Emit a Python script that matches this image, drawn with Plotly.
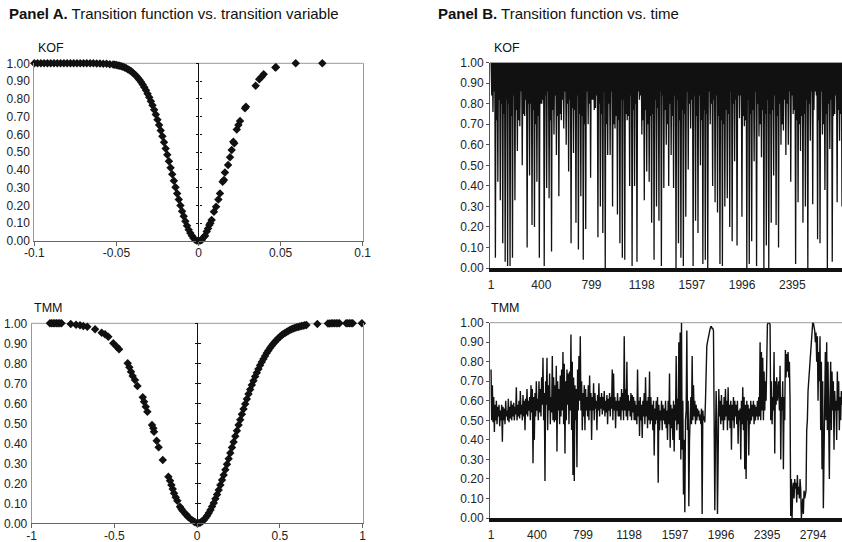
import numpy as np
import plotly.graph_objects as go

W, H = 842, 542

# ---------------- Panel A data (transition function vs. transition variable) -------------
kofA_x = [-0.100, -0.098, -0.096, -0.094, -0.092, -0.090, -0.088, -0.086, -0.084, -0.082,
          -0.080, -0.078, -0.076, -0.074, -0.072, -0.070, -0.068, -0.066, -0.064, -0.062,
          -0.060, -0.058, -0.056, -0.054, -0.052, -0.051, -0.050, -0.049, -0.048, -0.047,
          -0.046, -0.045, -0.044, -0.043, -0.042, -0.041, -0.040, -0.039, -0.038, -0.037,
          -0.036, -0.035, -0.034, -0.033, -0.032, -0.031, -0.030, -0.029, -0.028, -0.027,
          -0.026, -0.025, -0.024, -0.023, -0.022, -0.021, -0.020, -0.019, -0.018, -0.017,
          -0.016, -0.015, -0.014, -0.013, -0.012, -0.011, -0.010, -0.009, -0.008, -0.007,
          -0.006, -0.005, -0.004, -0.003, -0.002, -0.001, 0.000,
          0.001, 0.002, 0.0034, 0.004, 0.005, 0.0058, 0.0066, 0.0072, 0.008, 0.0094, 0.0107,
          0.0121, 0.0131, 0.0147, 0.0155, 0.0161, 0.018, 0.0192, 0.0202, 0.0212, 0.0218,
          0.0233, 0.0243, 0.0253, 0.0283, 0.0289, 0.0348, 0.037, 0.0385, 0.0397, 0.0468,
          0.0472, 0.0592, 0.0754]
kofA_y = [1.000, 1.000, 1.000, 1.000, 1.000, 1.000, 1.000, 1.000, 1.000, 1.000,
          1.000, 1.000, 1.000, 1.000, 1.000, 1.000, 1.000, 1.000, 1.000, 0.999,
          0.999, 0.998, 0.997, 0.995, 0.993, 0.992, 0.990, 0.988, 0.986, 0.983,
          0.980, 0.976, 0.972, 0.967, 0.961, 0.955, 0.947, 0.939, 0.930, 0.919,
          0.908, 0.895, 0.881, 0.865, 0.848, 0.829, 0.809, 0.787, 0.764, 0.738,
          0.712, 0.683, 0.653, 0.622, 0.590, 0.556, 0.521, 0.485, 0.449, 0.412,
          0.376, 0.339, 0.303, 0.267, 0.233, 0.200, 0.168, 0.139, 0.111, 0.086,
          0.064, 0.045, 0.029, 0.016, 0.007, 0.002, 0.000,
          0.002, 0.006, 0.024, 0.030, 0.053, 0.070, 0.090, 0.100, 0.118, 0.165, 0.193,
          0.234, 0.268, 0.334, 0.343, 0.385, 0.428, 0.471, 0.512, 0.559, 0.550,
          0.628, 0.653, 0.675, 0.747, 0.756, 0.874, 0.910, 0.925, 0.938, 0.976,
          0.978, 1.000, 1.000]

tmmA_x = [-0.89, -0.88, -0.87, -0.86, -0.85, -0.84, -0.83, -0.82, -0.764, -0.732,
          -0.708, -0.688, -0.664, -0.617, -0.577, -0.557, -0.537, -0.507, -0.486, -0.472,
          -0.42, -0.41, -0.40, -0.39, -0.376, -0.361, -0.329, -0.321, -0.311, -0.301,
          -0.273, -0.265, -0.261, -0.245, -0.233, -0.208, -0.174, -0.164, -0.156, -0.148,
          -0.14, -0.13, -0.12, -0.104, -0.095, -0.088, -0.071, -0.062, -0.053, -0.033,
          -0.022, -0.013, 0.00,
          0.01, 0.02, 0.03, 0.04, 0.05, 0.06, 0.07, 0.08, 0.09, 0.10,
          0.11, 0.12, 0.13, 0.14, 0.15, 0.16, 0.17, 0.18, 0.19, 0.20,
          0.21, 0.22, 0.23, 0.24, 0.25, 0.26, 0.27, 0.28, 0.29, 0.30,
          0.31, 0.32, 0.33, 0.34, 0.35, 0.36, 0.37, 0.38, 0.39, 0.40,
          0.41, 0.42, 0.43, 0.44, 0.45, 0.46, 0.47, 0.48, 0.49, 0.50,
          0.51, 0.52, 0.53, 0.54, 0.55, 0.56, 0.57, 0.58, 0.59, 0.60,
          0.61, 0.62, 0.63, 0.64, 0.65, 0.66,
          0.726, 0.79, 0.80, 0.81, 0.82, 0.83, 0.84, 0.85, 0.86, 0.90, 0.91, 0.92, 0.93,
          0.94, 0.995]
tmmA_y = [1.0, 1.0, 1.0, 1.0, 1.0, 1.0, 1.0, 1.0, 0.997, 0.993,
          0.990, 0.987, 0.983, 0.970, 0.953, 0.945, 0.933, 0.900, 0.883, 0.870,
          0.800, 0.780, 0.758, 0.737, 0.717, 0.687, 0.630, 0.608, 0.583, 0.558,
          0.492, 0.475, 0.458, 0.413, 0.380, 0.317, 0.233, 0.213, 0.192, 0.172,
          0.150, 0.130, 0.113, 0.083, 0.072, 0.063, 0.047, 0.040, 0.030, 0.017,
          0.010, 0.005, 0.000,
          0.001, 0.004, 0.010, 0.017, 0.027, 0.038, 0.052, 0.067, 0.084, 0.102,
          0.123, 0.144, 0.167, 0.191, 0.216, 0.242, 0.268, 0.295, 0.323, 0.351,
          0.379, 0.407, 0.435, 0.463, 0.491, 0.518, 0.545, 0.571, 0.597, 0.622,
          0.646, 0.669, 0.692, 0.713, 0.734, 0.753, 0.772, 0.790, 0.807, 0.822,
          0.837, 0.851, 0.864, 0.876, 0.888, 0.898, 0.908, 0.917, 0.925, 0.933,
          0.940, 0.946, 0.952, 0.957, 0.962, 0.966, 0.970, 0.974, 0.977, 0.980,
          0.982, 0.984, 0.986, 0.988, 0.990, 0.991,
          0.997, 0.999, 0.999, 1.0, 1.0, 1.0, 1.0, 1.0, 1.0, 1.0, 1.0, 1.0, 1.0,
          1.0, 1.0]

# ---------------- Panel B data (transition function vs. time) -------------
KOF_N_OBS = 2790
TMM_N_OBS = 3045
kofB = [
    1,.84,1,.76,1,.86,1,.05,1,.72,1,.42,1,.82,1,.33,1,.80,1,.12,1,.75,1,.03,
    1,.82,1,.01,1,.80,1,.01,1,.74,1,.05,1,.84,1,.33,1,.77,1,.57,1,.72,1,.69,
    1,.86,1,.50,1,.75,1,.74,1,.82,1,.10,1,.80,1,.45,1,.80,1,.21,1,.77,1,.20,
    1,.70,1,.42,1,.74,1,.05,1,.80,1,.80,1,.82,1,.01,1,.84,1,.39,1,.86,1,.34,
    1,.72,1,.08,1,.77,1,.65,1,.84,1,.55,1,.74,1,.35,1,.75,1,.72,1,.82,1,.68,
    1,.86,1,.60,1,.80,1,.47,1,.82,1,.12,1,.78,1,.56,1,.77,1,.22,1,.84,1,.09,
    1,.75,1,.35,1,.74,1,.04,1,.70,1,.19,1,.86,1,.70,1,.80,1,.44,1,.82,1,.82,
    1,.77,1,.78,1,.84,1,.15,1,.80,1,.30,1,.75,1,.17,1,.86,1,0,1,.70,1,.55,
    1,.80,1,.55,1,.86,1,.30,1,.70,1,.68,1,.74,1,.26,1,.72,1,.12,1,.82,1,.05,
    1,.82,1,.04,1,.75,1,.72,1,.74,1,.40,1,.84,1,.01,1,.77,1,.40,1,.80,1,.03,
    1,.86,1,.82,1,.84,1,.65,1,.72,1,.33,1,.77,1,.47,1,.70,1,.42,1,.74,1,.22,
    1,.75,1,.04,1,.82,1,.30,1,.78,1,.23,1,.86,1,.01,1,.84,1,.39,1,.77,1,.60,
    1,.70,1,.40,1,.80,1,.55,1,.74,1,.39,1,.84,1,0,1,.82,1,.12,1,.72,1,.05,
    1,.77,1,.01,1,.75,1,.25,1,.86,1,.48,1,.80,1,.68,1,.82,1,.01,1,.84,1,.23,
    1,.74,1,.17,1,.84,1,.50,1,.72,1,.02,1,.77,1,.04,1,.75,1,0,1,.86,1,.70,
    1,.80,1,.40,1,.82,1,.32,1,.84,1,.27,1,.74,1,.02,1,.72,1,.01,1,.70,1,.30,
    1,.77,1,.34,1,.75,1,.20,1,.86,1,.13,1,.80,1,.52,1,.82,1,.11,1,.84,1,.73,
    1,.84,1,.25,1,.74,1,.69,1,.72,1,0,1,.82,1,.02,1,.75,1,.13,1,.77,1,.52,
    1,.86,1,.01,1,.80,1,.64,1,.70,1,.54,1,.77,1,0,1,.75,1,.11,1,.82,1,0,
    1,.75,1,.22,1,.77,1,.45,1,.84,1,.21,1,.74,1,.10,1,.80,1,.60,1,.70,1,.67,
    1,.82,1,.55,1,.80,1,.60,1,.86,1,.42,1,.84,1,.75,1,.77,1,.02,1,.72,1,.32,
    1,.70,1,.57,1,.74,1,.22,1,.75,1,.30,1,.82,1,0,1,.80,1,.62,1,.86,1,.31,
    1,.77,1,.86,1,.84,1,.14,1,.72,1,.12,1,.86,1,.65,1,.70,1,.38,1,.75,1,0,
    1,.80,1,.58,1,.82,1,.03,1,.74,1,.75,1,.84,1,.32,1,.77,1,.62,1,.75,1,.30,
]
tmmB = [
    .76,.50,.68,.49,.62,.44,.58,.50,.60,.48,.57,.52,.58,.47,.55,.50,.58,.39,.57,.50,.56,.48,.60,.52,
    .55,.50,.61,.49,.57,.51,.60,.50,.58,.52,.59,.50,.57,.53,.67,.50,.58,.52,.60,.51,.65,.53,.58,.50,
    .63,.52,.60,.45,.61,.53,.66,.52,.60,.55,.62,.50,.68,.54,.66,.28,.62,.40,.64,.52,.70,.55,.61,.50,
    .70,.54,.66,.52,.72,.58,.82,.50,.64,.19,.70,.58,.82,.45,.68,.55,.74,.48,.62,.54,.83,.50,.72,.49,
    .68,.50,.78,.34,.70,.55,.66,.48,.73,.52,.76,.55,.85,.48,.79,.33,.70,.50,.76,.58,.74,.48,.75,.55,
    .94,.45,.80,.22,.72,.19,.68,.50,.66,.26,.76,.55,.83,.60,.93,.55,.70,.45,.64,.52,.68,.45,.66,.55,
    .62,.52,.68,.50,.73,.55,.64,.40,.62,.55,.69,.50,.64,.56,.60,.45,.63,.55,.69,.52,.62,.56,.64,.53,
    .62,.55,.65,.52,.60,.54,.63,.48,.61,.55,.64,.52,.62,.56,.76,.50,.74,.55,.62,.46,.60,.55,.64,.52,
    .60,.52,.62,.50,.66,.55,.64,.50,.93,.55,.66,.52,.80,.50,.63,.55,.60,.52,.64,.50,.63,.54,.62,.50,
    .60,.50,.58,.48,.76,.52,.60,.42,.62,.50,.58,.41,.60,.52,.64,.48,.72,.52,.60,.46,.62,.50,.75,.48,
    .62,.50,.58,.45,.60,.32,.56,.48,.60,.50,.62,.18,.58,.45,.55,.50,.60,.45,.58,.50,.56,.48,.60,.46,
    .55,.40,.60,.48,.74,.36,.58,.46,.56,.40,.60,.34,.58,.50,.83,.45,.61,.48,.90,.40,.95,.30,1.0,.35,
    .60,.12,.40,.03,.50,.55,.96,.45,.60,.06,.40,.50,.62,.48,.83,.50,.68,.52,.60,.48,.58,.50,.56,.52,
    .55,.50,.53,.48,.56,.02,.55,.50,.52,.49,.60,.85,.88,.90,.92,.95,.96,.97,.98,.98,.97,.97,.96,.50,
    .04,.40,.65,.50,.02,.30,.66,.52,.60,.48,.63,.50,.58,.45,.62,.50,.66,.52,.60,.45,.67,.50,.58,.46,
    .60,.35,.58,.50,.62,.46,.60,.52,.58,.48,.60,.38,.55,.50,.56,.30,.60,.48,.67,.45,.62,.25,.58,.20,
    .60,.50,.58,.32,.56,.48,.60,.50,.58,.52,.60,.48,.58,.50,.57,.52,.60,.50,.62,.52,.90,.50,.85,.55,
    .82,.50,.75,.55,.70,.60,.97,.99,1.0,1.0,1.0,.99,.50,.70,.48,.62,.55,.85,.33,.70,.58,.72,.60,.65,
    .70,.55,.78,.30,.62,.55,.70,.25,.62,.50,.86,.72,.84,.75,.85,.72,.80,.60,.01,.20,0,.15,.18,.10,
    .20,.15,.18,.08,.22,.12,.16,.10,.20,.15,0,.05,.10,.02,.14,.10,.12,.14,.45,.50,.65,.70,.80,.85,
    .90,.95,.99,1.0,1.0,.98,.96,.90,.95,.80,.93,.60,.85,.70,.93,.45,.80,.25,.70,.05,.40,.60,.85,.50,
    .90,.45,.80,.50,.20,.60,.80,.45,.75,.55,.70,.35,.65,.55,.60,.40,.75,.55,.70,.45,.62,.50,.65,.58,
]

# ---------------- tick labels -------------
y_ticks = [0.0, 0.1, 0.2, 0.3, 0.4, 0.5, 0.6, 0.7, 0.8, 0.9, 1.0]
y_labels = ["0.00", "0.10", "0.20", "0.30", "0.40", "0.50", "0.60", "0.70", "0.80", "0.90", "1.00"]
kofA_xticks = [-0.1, -0.05, 0, 0.05, 0.1]
kofA_xlabels = ["-0.1", "-0.05", "0", "0.05", "0.1"]
tmmA_xticks = [-1, -0.5, 0, 0.5, 1]
tmmA_xlabels = ["-1", "-0.5", "0", "0.5", "1"]
kofB_ticks = [1, 400, 799, 1198, 1597, 1996, 2395]
tmmB_ticks = [1, 400, 799, 1198, 1597, 1996, 2395, 2794]

# ---------------- layout helpers -------------
def dx(a, b):
    return [a / W, b / W]

def dy(top, bottom):
    return [1 - bottom / H, 1 - top / H]

BOX = {
    "Akof": (34.3, 362.7, 63.3, 241.0),
    "Atmm": (31.7, 362.7, 323.3, 523.3),
    "Bkof": (490.0, 842.0, 62.7, 268.0),
    "Btmm": (490.0, 842.0, 322.7, 518.0),
}
TICKFONT = dict(family="Liberation Sans, Arial, sans-serif", size=12, color="#222")
TXT = "Liberation Sans Narrow, Arial Narrow, Liberation Sans, sans-serif"
MK = "#111111"

fig = go.Figure()
fig.add_trace(go.Scatter(x=kofA_x, y=kofA_y, mode="markers", xaxis="x", yaxis="y",
                         marker=dict(symbol="diamond", size=6.5, color=MK),
                         cliponaxis=False, showlegend=False, hoverinfo="skip"))
fig.add_trace(go.Scatter(x=tmmA_x, y=tmmA_y, mode="markers", xaxis="x2", yaxis="y2",
                         marker=dict(symbol="diamond", size=6.5, color=MK),
                         cliponaxis=False, showlegend=False, hoverinfo="skip"))
fig.add_trace(go.Scatter(x=np.linspace(1, KOF_N_OBS, len(kofB)), y=kofB, mode="lines",
                         xaxis="x3", yaxis="y3", line=dict(color=MK, width=1.3),
                         showlegend=False, hoverinfo="skip"))
fig.add_trace(go.Scatter(x=np.linspace(1, TMM_N_OBS, len(tmmB)), y=tmmB, mode="lines",
                         xaxis="x4", yaxis="y4", line=dict(color=MK, width=1.4),
                         showlegend=False, hoverinfo="skip"))
# empty traces to carry the tick-only axes drawn on the x = 0 line in Panel A
for xa, ya in [("x", "y5"), ("x", "y6"), ("x2", "y7"), ("x2", "y8")]:
    fig.add_trace(go.Scatter(x=[None], y=[None], xaxis=xa, yaxis=ya, mode="markers",
                             showlegend=False, hoverinfo="skip"))

layout = dict(width=W, height=H, margin=dict(l=0, r=0, t=0, b=0, autoexpand=False),
              paper_bgcolor="white", plot_bgcolor="white", showlegend=False)

def axA_x(box, rng, tv, tt, anchor):
    return dict(domain=dx(box[0], box[1]), range=rng, tickvals=tv, ticktext=tt,
                showline=True, linecolor="#666", linewidth=1, ticks="outside", ticklen=4,
                tickcolor="#666", showgrid=False, zeroline=True, zerolinecolor="#111",
                zerolinewidth=1, anchor=anchor, tickfont=TICKFONT, ticklabelstandoff=-3,
                automargin=False, fixedrange=True)

def axA_y(box, anchor):
    return dict(domain=dy(box[2], box[3]), range=[0, 1], tickvals=y_ticks, ticktext=y_labels,
                showline=True, linecolor="#999", linewidth=1, mirror=True, ticks="",
                showgrid=False, zeroline=False, anchor=anchor, tickfont=TICKFONT,
                ticklabelstandoff=1, automargin=False, fixedrange=True)

def axB_x(box, rng, tv, anchor):
    return dict(domain=dx(box[0], box[1]), range=rng, tickvals=tv, ticktext=[str(t) for t in tv],
                showline=True, linecolor="#111", linewidth=4, ticks="", showgrid=False,
                zeroline=False, anchor=anchor, tickfont=TICKFONT, ticklabelstandoff=3,
                automargin=False, fixedrange=True)

def axB_y(box, anchor):
    return dict(domain=dy(box[2], box[3]), range=[0, 1], tickvals=y_ticks, ticktext=y_labels,
                showline=True, linecolor="#555", linewidth=1, ticks="outside", ticklen=3,
                tickcolor="#555", showgrid=False, zeroline=False, anchor=anchor,
                tickfont=TICKFONT, ticklabelstandoff=0, automargin=False, fixedrange=True)

def zero_axis(box, rng, over, direction):
    frac = (0 - rng[0]) / (rng[1] - rng[0])
    pos = (box[0] + frac * (box[1] - box[0])) / W
    return dict(overlaying=over, anchor="free", position=pos, side="left", range=[0, 1],
                tickvals=y_ticks, showticklabels=False, ticks=direction, ticklen=2.5,
                tickcolor="#111", tickwidth=1, showline=False, showgrid=False,
                zeroline=False, automargin=False, fixedrange=True)

KOF_RANGE_A = [-0.1, 0.1]
TMM_RANGE_A = [-1, 1]
layout["xaxis"] = axA_x(BOX["Akof"], KOF_RANGE_A, kofA_xticks, kofA_xlabels, "y")
layout["yaxis"] = axA_y(BOX["Akof"], "x")
layout["xaxis2"] = axA_x(BOX["Atmm"], TMM_RANGE_A, tmmA_xticks, tmmA_xlabels, "y2")
layout["yaxis2"] = axA_y(BOX["Atmm"], "x2")
layout["xaxis3"] = axB_x(BOX["Bkof"], [-8, KOF_N_OBS], kofB_ticks, "y3")
layout["yaxis3"] = axB_y(BOX["Bkof"], "x3")
layout["xaxis4"] = axB_x(BOX["Btmm"], [-8, TMM_N_OBS], tmmB_ticks, "y4")
layout["yaxis4"] = axB_y(BOX["Btmm"], "x4")
layout["yaxis5"] = zero_axis(BOX["Akof"], KOF_RANGE_A, "y", "outside")
layout["yaxis6"] = zero_axis(BOX["Akof"], KOF_RANGE_A, "y", "inside")
layout["yaxis7"] = zero_axis(BOX["Atmm"], TMM_RANGE_A, "y2", "outside")
layout["yaxis8"] = zero_axis(BOX["Atmm"], TMM_RANGE_A, "y2", "inside")

shapes = []
for xr, yr in [("x", "y"), ("x2", "y2"), ("x3", "y3"), ("x4", "y4")]:
    shapes.append(dict(type="line", xref=f"{xr} domain", yref=f"{yr} domain",
                       x0=0, x1=1, y0=1, y1=1, line=dict(color="#9a9a9a", width=1),
                       layer="below"))
layout["shapes"] = shapes

def ann(text, xpx, ypx, size, family=TXT):
    return dict(text=text, x=xpx / W, y=1 - ypx / H, xref="paper", yref="paper",
                xanchor="left", yanchor="middle", showarrow=False,
                font=dict(family=family, size=size, color="#111"))

layout["annotations"] = [
    ann("<b>Panel A.</b> Transition function vs. transition variable", 7, 14, 15),
    ann("<b>Panel B.</b> Transition function vs. time", 436, 14, 15),
    ann("KOF", 36, 48, 12.5),
    ann("TMM", 32, 308, 12.5),
    ann("KOF", 492, 48, 12.5),
    ann("TMM", 489, 308, 12.5),
]

fig.update_layout(**layout)
fig.write_html("out.html",
               config={"displayModeBar": False, "staticPlot": True},
               post_script="document.body.style.margin='0';document.body.style.padding='0';"
                           "document.body.style.overflow='hidden';")
